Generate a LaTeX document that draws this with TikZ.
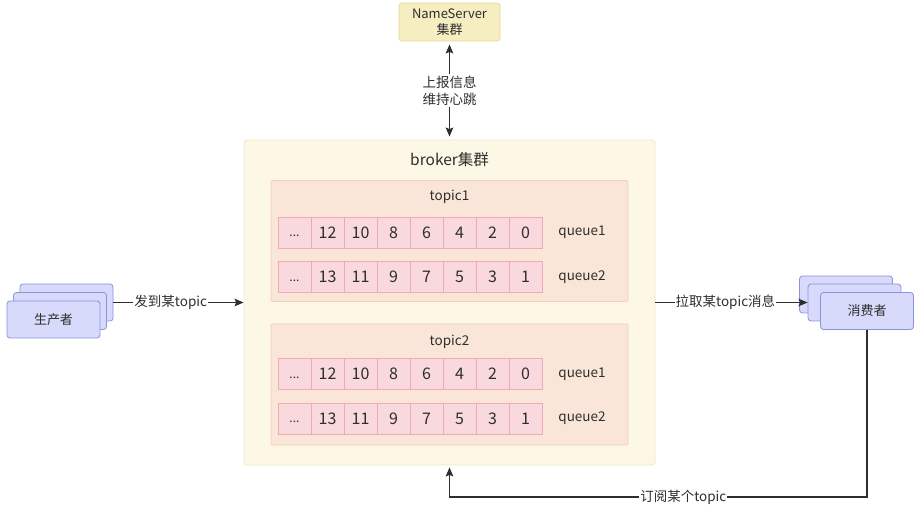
\documentclass[tikz,border=0pt]{standalone}
\usepackage{fontspec}
\setmainfont{Noto Sans CJK SC}
\usetikzlibrary{arrows.meta}
\definecolor{nsfill}{HTML}{F6EDC0}
\definecolor{nsdraw}{HTML}{E6D99A}
\definecolor{brfill}{HTML}{FDF8E6}
\definecolor{brdraw}{HTML}{F1E7C2}
\definecolor{tpfill}{HTML}{FAE6D8}
\definecolor{tpdraw}{HTML}{F2CFB6}
\definecolor{cellfill}{HTML}{F9D9DD}
\definecolor{celldraw}{HTML}{EFAAB2}
\definecolor{pfill}{HTML}{D7DAFA}
\definecolor{pdraw}{HTML}{8C91E0}
\definecolor{txt}{HTML}{2E2E2E}
\tikzset{
  fs/.style={font=\fontsize{#1pt}{\dimexpr #1pt*5/4\relax}\selectfont},
  box/.style={draw, rounded corners=3pt, line width=0.8pt, inner sep=0pt, text=txt},
  nsbox/.style={box, fill=nsfill, draw=nsdraw, minimum width=101pt, minimum height=38pt, align=center, fs=13},
  brbox/.style={box, fill=brfill, draw=brdraw, minimum width=411pt, minimum height=325pt},
  tpbox/.style={box, fill=tpfill, draw=tpdraw, rounded corners=1.5pt, minimum width=357pt, minimum height=121pt},
  cell/.style={draw=celldraw, fill=cellfill, line width=0.8pt, minimum width=33pt, minimum height=31pt, inner sep=0pt, text=txt, fs=16},
  pbox/.style={box, fill=pfill, draw=pdraw, minimum width=93pt, minimum height=37pt, fs=13},
  lbl/.style={text=txt, fs=13.5, inner sep=1pt},
  tip/.tip={Stealth[length=9pt,width=7.5pt,inset=1.5pt]},
  conn/.style={draw=txt, line width=1.4pt, -tip},
}
\begin{document}
\begin{tikzpicture}[x=1pt,y=-1pt]
\fill[white] (0,0) rectangle (918,510);
\useasboundingbox (0,0) rectangle (918,510);

% NameServer
\node[nsbox] (ns) at (449.5,22) {NameServer\\集群};

% broker
\node[brbox] (br) at (449.5,302.5) {};
\node[lbl, fs=15.5] (brt) at (449.5,160) {broker集群};

% topics
\node[tpbox] (t1) at (449.5,241) {};
\node[lbl] (t1l) at (449.5,197) {topic1};
\node[tpbox] (t2) at (449.5,384.5) {};
\node[lbl] (t2l) at (449.5,342) {topic2};

% queue cells
\foreach \row/\yy/\vals in {a/232.5/{12,10,8,6,4,2,0}, b/277/{13,11,9,7,5,3,1}, c/374/{12,10,8,6,4,2,0}, d/418.5/{13,11,9,7,5,3,1}}{
  \node[cell, fs=12] (\row0) at (294.5,\yy) {\vphantom{0}...};
  \foreach \v [count=\i] in \vals {
    \node[cell] (\row\i) at (294.5+33*\i,\yy) {\v};
  }
}
\node[lbl] (qa) at (582,232.5) {queue1};
\node[lbl] (qb) at (582,277) {queue2};
\node[lbl] (qc) at (582,374) {queue1};
\node[lbl] (qd) at (582,418.5) {queue2};

% producer
\node[pbox] (p3) at (66.5,302.5) {};
\node[pbox] (p2) at (60,311) {};
\node[pbox] (p1) at (53.5,319.5) {生产者};

% consumer
\node[pbox] (c3) at (846,294.5) {};
\node[pbox] (c2) at (854.5,302.5) {};
\node[pbox] (c1) at (867,311) {消费者};

% connectors
\draw[conn, tip-tip] ([yshift=-3pt]ns.south) -- node[lbl, fill=white, align=center, inner sep=2pt] {上报信息\\维持心跳} ([yshift=3pt]br.north);
\draw[conn] (p3.east) -- node[lbl, fill=white, pos=0.44] {发到某topic} (br.west |- p3.east);
\draw[conn] (br.east |- c2.west) -- node[lbl, fill=white, pos=0.46] {拉取某topic消息} (c2.west);
\coordinate (k1) at (867,497);
\coordinate (k2) at (449.5,497);
\draw[conn] (c1.south) -- (k1) -- node[lbl, fill=white, pos=0.44] {订阅某个topic} (k2) -- ([yshift=-2pt]br.south);
\end{tikzpicture}
\end{document}
